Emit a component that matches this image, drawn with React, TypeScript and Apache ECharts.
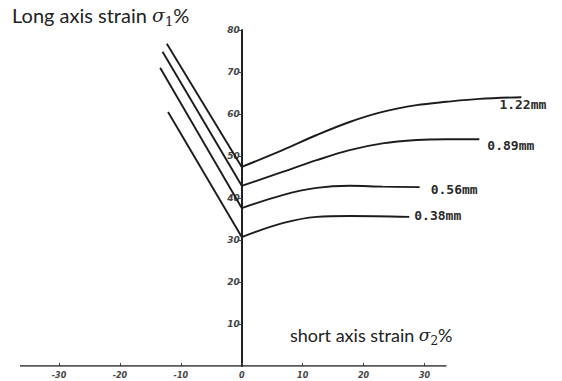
import React, { useEffect, useRef } from "react";
import * as echarts from "echarts";

// Sheet thickness of each forming-limit curve
const thicknessLabels = ["1.22mm", "0.89mm", "0.56mm", "0.38mm"];

// Left branch (negative minor strain): straight lines from the upper-left start to the sigma1 axis
const leftStartX = [-12.3, -13.0, -13.4, -12.1];
const leftStartY = [76.7, 74.8, 71.0, 60.5];

// Right branch (positive minor strain) curves
const curve122X = [0, 6.7, 12.3, 17.7, 23.1, 28.7, 33.6, 39.0, 45.9];
const curve122Y = [47.4, 51.4, 55.0, 58.1, 60.5, 62.1, 62.9, 63.6, 64.0];
const curve089X = [0, 6.7, 12.3, 17.7, 23.1, 28.7, 33.6, 39.0];
const curve089Y = [42.9, 46.2, 49.0, 51.4, 53.0, 53.8, 54.0, 54.0];
const curve056X = [0, 6.7, 12.3, 17.7, 23.1, 29.2];
const curve056Y = [37.6, 40.7, 42.4, 42.9, 42.7, 42.6];
const curve038X = [0, 6.7, 12.3, 17.7, 27.5];
const curve038Y = [30.7, 34.0, 35.5, 35.7, 35.5];

// Drawn extent of the horizontal (sigma2) axis line
const xAxisLineExtent = [-36.4, 33.6];

// Tick labels
const xTicks = [-30, -20, -10, 0, 10, 20, 30];
const yTicks = [10, 20, 30, 40, 50, 60, 70, 80];

const curvesX = [curve122X, curve089X, curve056X, curve038X];
const curvesY = [curve122Y, curve089Y, curve056Y, curve038Y];
const labelOffsets: [number, number][] = [
  [-30, 7],
  [0, 6],
  [3, 2],
  [-3, -1],
];

const INK = "#1c1c1c";
const GRID_LEFT = 20;

function buildOption(): any {
  const series: any[] = [];
  series.push({
    name: "axis",
    type: "line",
    data: xAxisLineExtent.map((x) => [x, 0]),
    symbol: "none",
    silent: true,
    lineStyle: { color: "#222", width: 1.5 },
  });
  thicknessLabels.forEach((name, i) => {
    const xs = curvesX[i];
    const ys = curvesY[i];
    series.push({
      name: name + "-left",
      type: "line",
      data: [
        [leftStartX[i], leftStartY[i]],
        [xs[0], ys[0]],
      ],
      symbol: "none",
      silent: true,
      lineStyle: { color: INK, width: 1.9 },
    });
    series.push({
      name,
      type: "line",
      data: xs.map((x, k) => [x, ys[k]]),
      symbol: "none",
      smooth: 0.35,
      silent: true,
      lineStyle: { color: INK, width: 1.9 },
      endLabel: {
        show: true,
        formatter: name,
        offset: labelOffsets[i],
        fontFamily: "DejaVu Sans Mono",
        fontWeight: "bold",
        fontSize: 13,
        color: "#2a2a2a",
      },
    });
  });

  return {
    animation: false,
    backgroundColor: "#ffffff",
    grid: { left: GRID_LEFT, right: 40, top: 30, bottom: 15, containLabel: false },
    xAxis: {
      type: "value",
      min: -36.4,
      max: 46,
      axisLine: { show: false },
      axisTick: {
        show: true,
        inside: true,
        length: 3,
        customValues: xTicks,
        lineStyle: { color: "#444" },
      },
      axisLabel: {
        customValues: xTicks,
        fontSize: 8,
        fontStyle: "italic",
        fontWeight: "bold",
        fontFamily: "DejaVu Sans",
        color: "#444",
        margin: 5,
      },
      splitLine: { show: false },
    },
    yAxis: {
      type: "value",
      min: 0,
      max: 80,
      interval: 10,
      offset: 0,
      axisLine: { onZero: false, lineStyle: { color: "#222", width: 2 } },
      axisTick: {
        show: true,
        length: 3,
        customValues: yTicks,
        lineStyle: { color: "#444" },
      },
      axisLabel: {
        customValues: yTicks,
        fontSize: 9,
        fontStyle: "italic",
        fontWeight: "bold",
        fontFamily: "DejaVu Sans",
        color: "#444",
        margin: 2,
      },
      splitLine: { show: false },
    },
    graphic: [
      {
        type: "text",
        left: 12,
        top: 5,
        style: {
          text: "{n|Long axis strain }{s|σ}{sub|1}{n|%}",
          rich: {
            n: { fontFamily: "Lato", fontSize: 20, fill: "#222", lineHeight: 26 },
            s: { fontFamily: "DejaVu Serif", fontStyle: "italic", fontSize: 19, fill: "#222", lineHeight: 26 },
            sub: { fontFamily: "DejaVu Serif", fontSize: 13, fill: "#222", lineHeight: 26, verticalAlign: "bottom", padding: [9, 0, 0, 0] },
          },
        },
      },
      {
        type: "text",
        left: 290,
        top: 326,
        style: {
          text: "{n|short axis strain }{s|σ}{sub|2}{n|%}",
          rich: {
            n: { fontFamily: "Lato", fontSize: 18, fill: "#222", lineHeight: 24 },
            s: { fontFamily: "DejaVu Serif", fontStyle: "italic", fontSize: 17, fill: "#222", lineHeight: 24 },
            sub: { fontFamily: "DejaVu Serif", fontSize: 12, fill: "#222", lineHeight: 24, verticalAlign: "bottom", padding: [8, 0, 0, 0] },
          },
        },
      },
    ],
    series,
  };
}

export default function App() {
  const ref = useRef<HTMLDivElement>(null);
  useEffect(() => {
    document.body.style.margin = "0";
    const chart = echarts.init(ref.current!, null, { renderer: "svg" });
    chart.setOption(buildOption());
    // place the sigma1 axis (with its ticks and labels) at sigma2 = 0
    const zeroPx = chart.convertToPixel({ gridIndex: 0 }, [0, 0]) as number[];
    chart.setOption({ yAxis: { offset: -(zeroPx[0] - GRID_LEFT) } });
    return () => chart.dispose();
  }, []);
  return (
    <div
      ref={ref}
      style={{ position: "fixed", left: 0, top: 0, width: 562, height: 381 }}
    />
  );
}
